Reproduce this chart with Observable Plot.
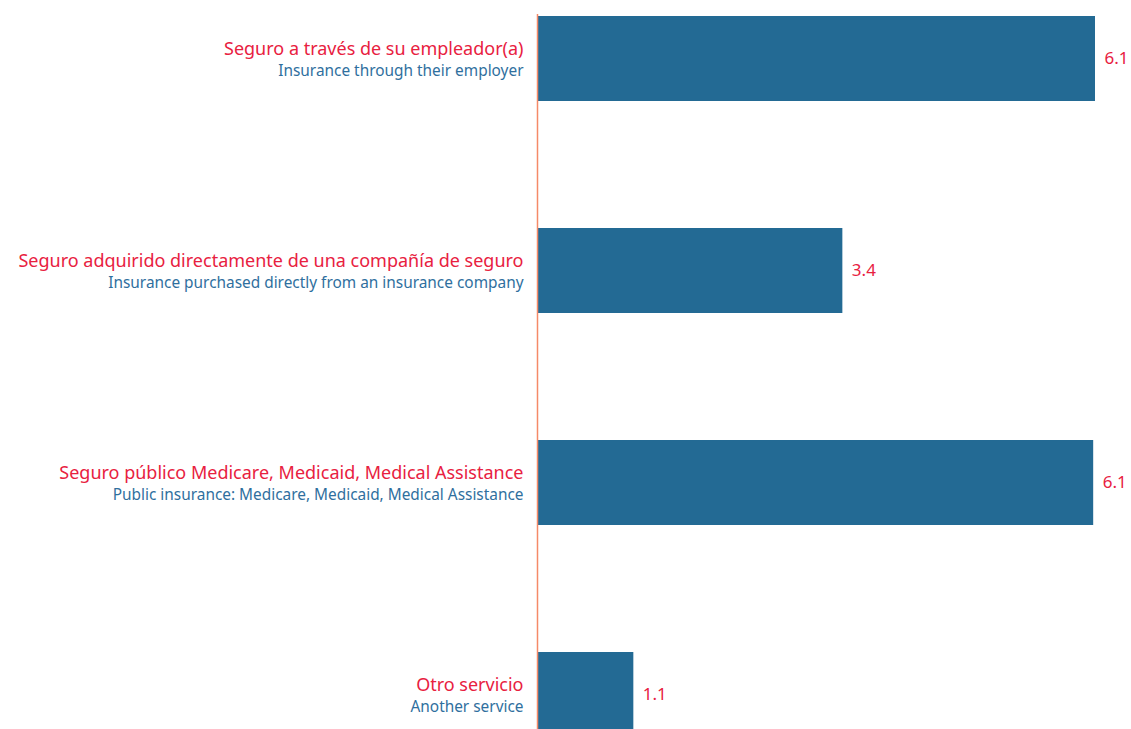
<!DOCTYPE html>
<html><head><meta charset="utf-8">
<script src="https://cdn.jsdelivr.net/npm/d3@7"></script>
<script src="https://cdn.jsdelivr.net/npm/@observablehq/plot@0.6"></script>
<style>body{margin:0;background:#fff;font-family:"Noto Sans",sans-serif;overflow:hidden}</style>
</head><body><div id="chart"></div>
<script>
const categoriesEs = ["Seguro a través de su empleador(a)", "Seguro adquirido directamente de una compañía de seguro", "Seguro público Medicare, Medicaid, Medical Assistance", "Otro servicio"];
const categoriesEn = ["Insurance through their employer", "Insurance purchased directly from an insurance company", "Public insurance: Medicare, Medicaid, Medical Assistance", "Another service"];
const values = [6.14, 3.36, 6.12, 1.06];

const data = categoriesEs.map((c, i) => ({key: c, en: categoriesEn[i], value: values[i]}));

const chart = Plot.plot({
  width: 1131,
  height: 752,
  marginLeft: 537,
  marginRight: 36,
  marginTop: 14,
  marginBottom: 14,
  style: {fontFamily: "Noto Sans, sans-serif", background: "#fff"},
  x: {domain: [0, 6.14], axis: null},
  y: {domain: categoriesEs, axis: null, paddingInner: 0.6, paddingOuter: 0},
  marks: [
    Plot.barX(data, {x: "value", y: "key", fill: "#236a94"}),
    Plot.ruleX([0], {stroke: "#f58a68", strokeWidth: 1.5}),
    Plot.text(data, {x: "value", y: "key", text: d => d3.format(".1f")(d.value), textAnchor: "start", dx: 9, fill: "#e8213f", fontSize: 17}),
    Plot.text(data, {x: 0, y: "key", text: "key", textAnchor: "end", dx: -14, dy: -10, fill: "#e8213f", fontSize: 18}),
    Plot.text(data, {x: 0, y: "key", text: "en", textAnchor: "end", dx: -14, dy: 12, fill: "#2f6f9e", fontSize: 15.4})
  ]
});
document.getElementById("chart").append(chart);
</script>
</body></html>
